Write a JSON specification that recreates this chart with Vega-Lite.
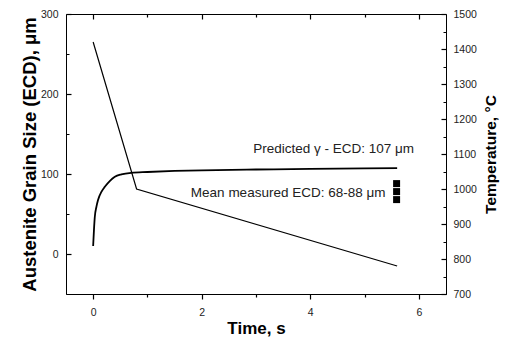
{
  "$schema": "https://vega.github.io/schema/vega-lite/v6.json",
  "width": 380,
  "height": 280,
  "autosize": "none",
  "padding": {"left": 66, "top": 14, "right": 64, "bottom": 51},
  "background": "white",
  "config": {
    "font": "Liberation Sans",
    "view": {"stroke": "black", "strokeWidth": 1},
    "axis": {
      "grid": false,
      "ticks": true,
      "domainColor": "black",
      "tickColor": "black",
      "tickWidth": 1.2,
      "labelColor": "#222222",
      "titleColor": "black",
      "labelFont": "Liberation Sans",
      "titleFont": "Liberation Sans",
      "labelFontSize": 10.5,
      "titleFontWeight": "bold"
    }
  },
  "datasets": {
    "grain": [
      {"t": 0, "v": 10},
      {"t": 0.015, "v": 30},
      {"t": 0.03, "v": 46},
      {"t": 0.06, "v": 59},
      {"t": 0.09, "v": 67.5},
      {"t": 0.155, "v": 78},
      {"t": 0.215, "v": 84},
      {"t": 0.31, "v": 91.5},
      {"t": 0.4, "v": 96.5},
      {"t": 0.52, "v": 99.5},
      {"t": 0.7, "v": 101.5},
      {"t": 1.0, "v": 102.5},
      {"t": 1.5, "v": 103.8},
      {"t": 2.0, "v": 104.6},
      {"t": 3.0, "v": 105.6},
      {"t": 4.0, "v": 106.4},
      {"t": 5.0, "v": 107},
      {"t": 5.6, "v": 107.3}
    ],
    "measured": [
      {"t": 5.59, "v": 68},
      {"t": 5.59, "v": 78},
      {"t": 5.59, "v": 88}
    ],
    "notes": [
      {"t": 2.95, "v": 126.6, "label": "Predicted γ - ECD: 107 μm"},
      {"t": 1.8, "v": 71.6, "label": "Mean measured ECD: 68-88 μm"}
    ],
    "temp": [
      {"t": 0, "T": 1420},
      {"t": 0.8, "T": 1000},
      {"t": 5.6, "T": 780}
    ]
  },
  "layer": [
    {
      "encoding": {
        "x": {
          "field": "t",
          "type": "quantitative",
          "scale": {"domain": [-0.5, 6.5], "nice": false, "zero": false},
          "axis": {
            "orient": "bottom",
            "title": "Time, s",
            "titleFontSize": 17,
            "titlePadding": 3,
            "values": [0, 1, 2, 3, 4, 5, 6],
            "labelExpr": "datum.value % 2 === 0 ? datum.label : ''",
            "tickSize": {"condition": {"test": "datum.value % 2 === 0", "value": 5}, "value": 3},
            "labelPadding": 8
          }
        },
        "y": {
          "field": "v",
          "type": "quantitative",
          "scale": {"domain": [-50, 300], "nice": false, "zero": false},
          "axis": {
            "orient": "left",
            "offset": -5,
            "domain": false,
            "title": "Austenite Grain Size (ECD), μm",
            "titleFontSize": 18.5,
            "titlePadding": 1,
            "values": [0, 50, 100, 150, 200, 250, 300],
            "labelExpr": "datum.value % 100 === 0 ? datum.label : ''",
            "tickSize": 5,
            "tickDash": {"condition": {"test": "datum.value % 100 !== 0", "value": [0, 2, 3, 10]}, "value": []},
            "labelPadding": 8
          }
        }
      },
      "layer": [
        {
          "data": {"name": "grain"},
          "mark": {"type": "line", "color": "black", "strokeWidth": 1.8, "interpolate": "monotone"}
        },
        {
          "data": {"name": "measured"},
          "mark": {"type": "square", "color": "black", "filled": true, "opacity": 1, "size": 49}
        },
        {
          "data": {"name": "notes"},
          "mark": {"type": "text", "align": "left", "baseline": "alphabetic", "fontSize": 13.5, "color": "#222222"},
          "encoding": {"text": {"field": "label"}}
        }
      ]
    },
    {
      "data": {"name": "temp"},
      "mark": {"type": "line", "color": "black", "strokeWidth": 1.2},
      "encoding": {
        "x": {
          "field": "t",
          "type": "quantitative",
          "axis": {
            "orient": "top",
            "offset": -5,
            "title": null,
            "labels": false,
            "domain": false,
            "values": [0, 1, 2, 3, 4, 5, 6],
            "tickSize": 5,
            "tickDash": {"condition": {"test": "datum.value % 2 !== 0", "value": [0, 2, 3, 10]}, "value": []}
          }
        },
        "y": {
          "field": "T",
          "type": "quantitative",
          "scale": {"domain": [700, 1500], "nice": false, "zero": false},
          "axis": {
            "orient": "right",
            "offset": -5,
            "domain": false,
            "title": "Temperature, °C",
            "titleAngle": 270,
            "titleBaseline": "top",
            "titleFontSize": 15.5,
            "titlePadding": 7,
            "format": "d",
            "values": [700, 750, 800, 850, 900, 950, 1000, 1050, 1100, 1150, 1200, 1250, 1300, 1350, 1400, 1450, 1500],
            "labelExpr": "datum.value % 100 === 0 ? datum.label : ''",
            "tickSize": 5,
            "tickDash": {"condition": {"test": "datum.value % 100 !== 0", "value": [0, 2, 3, 10]}, "value": []},
            "labelPadding": 7
          }
        }
      }
    }
  ],
  "resolve": {"scale": {"y": "independent"}, "axis": {"x": "independent"}}
}
